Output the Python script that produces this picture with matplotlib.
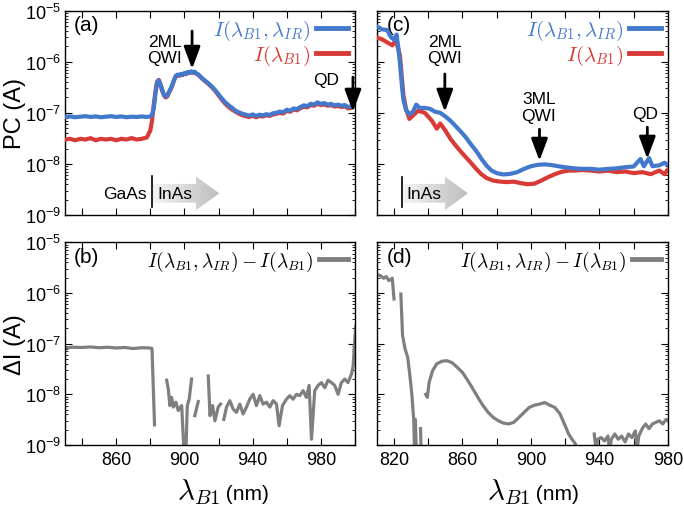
import numpy as np
import matplotlib
matplotlib.use("Agg")
import matplotlib.pyplot as plt
from matplotlib.patches import Polygon
from matplotlib.lines import Line2D
from matplotlib.colors import LinearSegmentedColormap

plt.rcParams['font.family'] = ['Liberation Sans', 'DejaVu Sans']
plt.rcParams['mathtext.fontset'] = 'cm'

nan = np.nan

BLUE = "#4279cc"
RED = "#d83a36"
GRAY = "#7f7f7f"

# ---- panel (a): PC spectra, left sample ----
lam_a = [830, 833, 836, 839, 842, 845, 848, 851, 854, 857,
         860, 863, 866, 869, 872, 875, 878, 880, 881, 882,
         883, 884, 885, 886, 887, 888, 889, 890, 891, 892,
         893, 894, 895, 896, 897, 898, 899, 900, 901, 902,
         903, 904, 905, 906, 907, 908, 909, 910, 912, 914,
         916, 918, 920, 922, 924, 926, 928, 930, 932, 934,
         936, 938, 940, 942, 944, 946, 948, 950, 952, 954,
         956, 958, 960, 962, 964, 966, 968, 970, 972, 974,
         976, 978, 980, 982, 984, 986, 988, 990, 992, 994,
         996, 998, 999, 1000]
blue_a = [8.3e-8, 8.5e-8, 8.2e-8, 8.4e-8, 8.6e-8, 8.3e-8, 8.5e-8, 8.2e-8, 8.4e-8, 8.6e-8,
          8.3e-8, 8.5e-8, 8.2e-8, 8.4e-8, 8.3e-8, 8.5e-8, 8.3e-8, 8.5e-8, 9.0e-8, 1.2e-7,
          2.3e-7, 3.9e-7, 4.3e-7, 3.6e-7, 2.8e-7, 2.3e-7, 2.1e-7, 2.2e-7, 2.6e-7, 3.0e-7,
          3.6e-7, 4.5e-7, 5.3e-7, 5.6e-7, 5.4e-7, 5.8e-7, 5.6e-7, 6.0e-7, 5.8e-7, 6.3e-7,
          6.1e-7, 6.5e-7, 6.2e-7, 6.4e-7, 5.9e-7, 5.7e-7, 5.3e-7, 4.9e-7, 4.3e-7, 3.8e-7,
          3.3e-7, 2.8e-7, 2.3e-7, 1.9e-7, 1.6e-7, 1.4e-7, 1.25e-7, 1.1e-7, 1.02e-7, 9.6e-8,
          9.2e-8, 8.8e-8, 9.3e-8, 8.7e-8, 9.2e-8, 8.9e-8, 9.4e-8, 9.1e-8, 9.8e-8, 1.0e-7,
          1.06e-7, 1.02e-7, 1.15e-7, 1.1e-7, 1.22e-7, 1.18e-7, 1.3e-7, 1.4e-7, 1.35e-7, 1.5e-7,
          1.45e-7, 1.6e-7, 1.5e-7, 1.55e-7, 1.45e-7, 1.5e-7, 1.4e-7, 1.45e-7, 1.38e-7, 1.42e-7,
          1.3e-7, 1.35e-7, 1.6e-7, 2.8e-7]
red_a = [3.0e-8, 3.1e-8, 2.9e-8, 3.1e-8, 3.0e-8, 3.2e-8, 2.9e-8, 3.1e-8, 3.0e-8, 3.1e-8,
         2.9e-8, 3.1e-8, 3.0e-8, 3.2e-8, 3.0e-8, 3.1e-8, 3.3e-8, 4.5e-8, 7.0e-8, 1.4e-7,
         2.6e-7, 4.1e-7, 4.4e-7, 3.5e-7, 2.7e-7, 2.2e-7, 2.0e-7, 2.1e-7, 2.5e-7, 2.9e-7,
         3.5e-7, 4.4e-7, 5.2e-7, 5.5e-7, 5.3e-7, 5.7e-7, 5.5e-7, 5.9e-7, 5.7e-7, 6.2e-7,
         6.0e-7, 6.3e-7, 6.1e-7, 6.2e-7, 5.8e-7, 5.6e-7, 5.2e-7, 4.8e-7, 4.2e-7, 3.7e-7,
         3.2e-7, 2.7e-7, 2.2e-7, 1.8e-7, 1.5e-7, 1.3e-7, 1.15e-7, 1.05e-7, 9.6e-8, 9.0e-8,
         8.6e-8, 8.3e-8, 8.8e-8, 8.2e-8, 8.7e-8, 8.5e-8, 9.0e-8, 8.7e-8, 9.3e-8, 9.6e-8,
         1.0e-7, 9.7e-8, 1.1e-7, 1.05e-7, 1.16e-7, 1.12e-7, 1.24e-7, 1.32e-7, 1.28e-7, 1.42e-7,
         1.38e-7, 1.5e-7, 1.42e-7, 1.46e-7, 1.38e-7, 1.42e-7, 1.33e-7, 1.37e-7, 1.3e-7, 1.34e-7,
         1.22e-7, 1.25e-7, 1.5e-7, 2.0e-7]

# ---- panel (b): difference, left sample (nan = negative / not shown) ----
lam_b = [830, 835, 840, 845, 850, 855, 860, 865, 870, 875, 880, 881, 882.5, 885,
         889.6, 890.6, 891.5, 892.5, 893.5, 895, 896.4, 898.4, 899.7, 900.9, 901.7, 902.8, 904.2, 905,
         906.1, 908.1, 910,
         914, 915, 916.5, 917.9, 919.8, 921.2, 922,
         923.1, 924.7, 926.6, 928.6, 930.5, 932.5, 934.4, 936.4, 938.3, 940.3,
         942.2, 944.2, 946.1, 948.1, 950.1, 952, 954, 955.5, 957.5, 959.8,
         961.8, 963.7, 965.7, 967.6, 969.6, 971.5, 973.1, 974.5, 976.4, 978.4,
         980.3, 982.3, 984.2, 986.2, 988.1, 990.1, 992, 994, 995.9, 997.9,
         998.9, 999.9, 1000.5]
dI_b = [8.3e-8, 8.5e-8, 8.4e-8, 8.6e-8, 8.3e-8, 8.5e-8, 8.2e-8, 8.4e-8, 8.0e-8, 8.3e-8, 8.2e-8, 8.0e-8, 2.5e-9, nan,
        1.9e-8, 1.25e-8, 6.0e-9, 8.7e-9, 5.6e-9, 7.0e-9, 4.8e-9, 6.0e-9, 8e-10, 8e-10, 6.0e-9, 8.0e-9, 2.0e-8, nan,
        3.8e-9, 7.2e-9, nan,
        2.3e-8, 3.8e-9, 6.0e-9, 3.0e-9, 5.6e-9, 6.4e-9, nan,
        3.2e-9, 5.6e-9, 7.5e-9, 5.1e-9, 4.4e-9, 6.4e-9, 4.1e-9, 5.6e-9, 8.0e-9, 1.0e-8,
        6.0e-9, 9.4e-9, 6.4e-9, 7.0e-9, 5.6e-9, 7.5e-9, 6.4e-9, 2.4e-9, 6.0e-9, 8.0e-9,
        9.4e-9, 8.0e-9, 1.0e-8, 9.4e-9, 1.18e-8, 8.7e-9, 1.5e-8, 1.3e-9, 1.18e-8, 1.5e-8,
        1.7e-8, 1.35e-8, 1.9e-8, 1.7e-8, 1.5e-8, 1.0e-8, 1.7e-8, 2.0e-8, 1.7e-8, 2.5e-8,
        3.6e-8, 1.2e-7, 2.2e-7]

# ---- panel (c): PC spectra, right sample ----
lam_c_blue = [810, 813, 816, 818, 820, 821.5, 822.5, 823.5, 824.5, 825.5,
              827, 829, 831, 833, 835, 838, 841, 844, 847, 850,
              853, 856, 859, 862, 865, 868, 871, 874, 877, 880,
              884, 888, 892, 896, 900, 904, 908, 912, 916, 920,
              925, 930, 935, 940, 945, 950, 955, 960, 964, 966,
              969, 971, 975, 978, 980]
blue_c = [4.9e-6, 4.3e-6, 4.2e-6, 3.1e-6, 2.7e-6, 3.4e-6, 1.9e-6, 9.3e-7, 3.8e-7, 1.8e-7,
          1.15e-7, 9.3e-8, 1.05e-7, 1.45e-7, 1.25e-7, 1.25e-7, 1.2e-7, 1.05e-7, 1.0e-7, 8.5e-8,
          7.0e-8, 5.5e-8, 4.3e-8, 3.3e-8, 2.4e-8, 1.8e-8, 1.27e-8, 9.3e-9, 7.4e-9, 6.6e-9,
          6.2e-9, 6.4e-9, 6.9e-9, 8.0e-9, 9.0e-9, 9.6e-9, 9.8e-9, 9.5e-9, 9.0e-9, 8.6e-9,
          8.2e-9, 8.0e-9, 8.0e-9, 7.7e-9, 8.0e-9, 8.2e-9, 8.6e-9, 8.9e-9, 1.25e-8, 9.0e-9,
          1.3e-8, 9.0e-9, 9.4e-9, 1.05e-8, 9.7e-9]
lam_c_red = [810, 813, 816, 819, 821, 822.5, 823.5, 824.5, 825.5, 827,
             829, 831, 834, 838, 842, 845, 847, 850, 853, 856,
             859, 862, 865, 868, 871, 874, 878, 882, 886, 890,
             894, 898, 902, 906, 910, 914, 918, 922, 926, 930,
             935, 940, 945, 950, 955, 960, 965, 970, 975, 978, 980]
red_c = [3.0e-6, 2.75e-6, 2.4e-6, 2.1e-6, 2.6e-6, 1.8e-6, 1.3e-6, 5.3e-7, 2.2e-7, 1.2e-7,
         7.6e-8, 8.8e-8, 1.1e-7, 1.0e-7, 7.1e-8, 4.9e-8, 6.2e-8, 4.5e-8, 3.1e-8, 2.3e-8,
         1.75e-8, 1.35e-8, 1.05e-8, 8.0e-9, 6.3e-9, 5.3e-9, 4.7e-9, 4.5e-9, 4.4e-9, 4.5e-9,
         4.2e-9, 4.0e-9, 4.1e-9, 4.7e-9, 5.5e-9, 6.3e-9, 7.0e-9, 7.4e-9, 7.4e-9, 7.6e-9,
         7.4e-9, 7.1e-9, 7.4e-9, 6.9e-9, 7.1e-9, 6.6e-9, 6.9e-9, 6.3e-9, 7.4e-9, 6.3e-9, 7.7e-9]

# ---- panel (d): difference, right sample ----
lam_d = [810, 812, 814, 815.5, 817, 819, 820, 822,
         824, 825, 826.5, 828, 829.5, 830.5, 831.5, 832, 832.5, 833, 834,
         835.5, 835.8, 837,
         838.5, 839.5, 840.5, 842.5, 845, 848, 851, 854, 857, 860,
         863, 866, 869, 872, 875, 878, 881, 884, 887, 890,
         893, 896, 899, 902, 905, 908, 911, 914, 917, 920,
         922, 924, 926, 927, 930,
         937, 938, 939, 941, 943, 945, 946, 947, 949, 951,
         953, 955, 957, 959, 961, 962, 963, 965, 967, 969,
         971, 973, 975, 977, 979, 980]
dI_d = [2.3e-6, 2.2e-6, 1.95e-6, 2.1e-6, 1.75e-6, 1.95e-6, 7.6e-7, nan,
        9.5e-7, 1.45e-7, 7.8e-8, 5.4e-8, 2.0e-8, 9.4e-9, 3.2e-9, 8e-10, 3.2e-9, 8e-10, nan,
        2.1e-9, 8e-10, nan,
        1.0e-8, 8.7e-9, 1.7e-8, 2.9e-8, 4.0e-8, 4.5e-8, 4.6e-8, 4.2e-8, 3.4e-8, 2.7e-8,
        1.9e-8, 1.3e-8, 8.7e-9, 6.0e-9, 4.4e-9, 3.5e-9, 3.0e-9, 2.7e-9, 2.6e-9, 2.8e-9,
        3.5e-9, 4.4e-9, 5.5e-9, 6.1e-9, 6.4e-9, 6.9e-9, 6.1e-9, 5.5e-9, 4.1e-9, 2.4e-9,
        1.65e-9, 1.3e-9, 1.05e-9, 8e-10, nan,
        1.65e-9, 8e-10, 1.3e-9, 1.4e-9, 1.2e-9, 1.5e-9, 8e-10, 1.3e-9, 1.65e-9, 1.3e-9,
        1.5e-9, 1.15e-9, 1.65e-9, 1.4e-9, 1.9e-9, 8e-10, 1.5e-9, 2.1e-9, 2.6e-9, 2.1e-9,
        2.6e-9, 2.8e-9, 3.0e-9, 2.6e-9, 3.2e-9, 3.0e-9]

yticks = [1e-9, 1e-8, 1e-7, 1e-6, 1e-5]
xticks_left = [840, 860, 880, 900, 920, 940, 960, 980, 1000]
xlabels_left = ["", "860", "", "900", "", "940", "", "980", ""]
xticks_right = [820, 840, 860, 880, 900, 920, 940, 960, 980]
xlabels_right = ["820", "", "860", "", "900", "", "940", "", "980"]

lab_pc = [r'$I(\lambda_{B1},\lambda_{IR})$', r'$I(\lambda_{B1})$']
lab_diff = r'$I(\lambda_{B1},\lambda_{IR})-I(\lambda_{B1})$'

fig = plt.figure(figsize=(6.84, 5.10), dpi=100)
ax_a = fig.add_axes([0.095, 0.5765, 0.424, 0.4006])
ax_c = fig.add_axes([0.551, 0.5765, 0.4254, 0.4006])
ax_b = fig.add_axes([0.095, 0.1255, 0.424, 0.3975])
ax_d = fig.add_axes([0.551, 0.1255, 0.4254, 0.3975])


def style(ax, xt, xl, show_x, show_y):
    ax.set_yscale('log')
    ax.set_xticks(xt)
    ax.set_xticklabels(xl if show_x else [""] * len(xt))
    ax.set_yticks(yticks)
    if not show_y:
        ax.set_yticklabels([])
    ax.tick_params(which='both', direction='in', top=True, right=True)
    ax.tick_params(which='major', length=5, width=0.8)
    ax.tick_params(which='minor', length=2.5, width=0.6)
    ax.tick_params(axis='x', labelsize=13, pad=4)
    ax.tick_params(axis='y', labelsize=13, pad=3)
    for s in ax.spines.values():
        s.set_linewidth(1.0)


def grad_arrow(ax, x0, xb, xt, yc, bh=0.046, hh=0.082):
    verts = [(x0, yc - bh), (xb, yc - bh), (xb, yc - hh), (xt, yc),
             (xb, yc + hh), (xb, yc + bh), (x0, yc + bh)]
    poly = Polygon(verts, closed=True, transform=ax.transAxes,
                   facecolor='none', edgecolor='none')
    ax.add_patch(poly)
    cmap = LinearSegmentedColormap.from_list('g', ['#f4f4f4', '#bdbdbd'])
    grad = np.linspace(0, 1, 256).reshape(1, -1)
    im = ax.imshow(grad, cmap=cmap, extent=[x0, xt, yc - hh, yc + hh],
                   transform=ax.transAxes, aspect='auto', zorder=1,
                   interpolation='bilinear')
    im.set_clip_path(poly)


def arrow(ax, x, y_tail, y_tip):
    ax.annotate('', xy=(x, y_tip), xytext=(x, y_tail),
                xycoords=('data', 'axes fraction'),
                textcoords=('data', 'axes fraction'),
                arrowprops=dict(arrowstyle='-|>,head_length=1.35,head_width=0.5',
                                color='black', lw=2, shrinkA=0, shrinkB=0,
                                mutation_scale=10), zorder=6)


def pc_legend(ax):
    h = [Line2D([], [], color=BLUE, lw=3.5), Line2D([], [], color=RED, lw=3.5)]
    ax.legend(h, lab_pc, loc='upper right', frameon=False, markerfirst=False,
              fontsize=15, labelcolor=[BLUE, RED], handlelength=1.5,
              handletextpad=0.3, labelspacing=0.05, borderaxespad=0.15,
              borderpad=0.2)


def diff_legend(ax):
    h = [Line2D([], [], color=GRAY, lw=3.5)]
    ax.legend(h, [lab_diff], loc='upper right', frameon=False, markerfirst=False,
              fontsize=14, handlelength=1.5, handletextpad=0.3,
              borderaxespad=0.15, borderpad=0.2)


# (a)
ax_a.plot(lam_a, red_a, color=RED, lw=3, zorder=3)
ax_a.plot(lam_a, blue_a, color=BLUE, lw=3, zorder=4)
style(ax_a, xticks_left, xlabels_left, False, True)
pc_legend(ax_a)
ax_a.text(0.03, 0.93, '(a)', transform=ax_a.transAxes, fontsize=15, va='center')
ax_a.set_ylabel('PC (A)', fontsize=17)
ax_a.yaxis.set_label_coords(-0.135, 0.5)
ax_a.text(888.6, 0.81, '2ML\nQWI', transform=ax_a.get_xaxis_transform(),
          ha='center', va='center', fontsize=12.5, linespacing=1.15)
arrow(ax_a, 904.5, 0.90, 0.715)
ax_a.text(983, 0.665, 'QD', transform=ax_a.get_xaxis_transform(),
          ha='center', va='center', fontsize=12.5)
arrow(ax_a, 998.8, 0.675, 0.505)
grad_arrow(ax_a, 0.30, 0.452, 0.532, 0.106)
ax_a.plot([0.299, 0.299], [0.039, 0.192], transform=ax_a.transAxes, color='k', lw=1.2)
ax_a.text(0.283, 0.103, 'GaAs', transform=ax_a.transAxes, ha='right', va='center', fontsize=12.5)
ax_a.text(0.317, 0.103, 'InAs', transform=ax_a.transAxes, ha='left', va='center', fontsize=12.5, zorder=5)
ax_a.set_xlim(830, 1000)
ax_a.set_ylim(1e-9, 1e-5)

# (b)
ax_b.plot(lam_b, dI_b, color=GRAY, lw=2.3)
style(ax_b, xticks_left, xlabels_left, True, True)
diff_legend(ax_b)
ax_b.text(0.03, 0.93, '(b)', transform=ax_b.transAxes, fontsize=15, va='center')
ax_b.set_ylabel('\u0394I (A)', fontsize=17)
ax_b.yaxis.set_label_coords(-0.135, 0.5)
ax_b.text(0.534, -0.266, r'$\lambda_{B1}$', transform=ax_b.transAxes, ha='right', va='baseline', fontsize=21)
ax_b.text(0.534, -0.266, ' (nm)', transform=ax_b.transAxes, ha='left', va='baseline', fontsize=15)
ax_b.set_xlim(830, 1000)
ax_b.set_ylim(1e-9, 1e-5)

# (c)
ax_c.plot(lam_c_red, red_c, color=RED, lw=3, zorder=3)
ax_c.plot(lam_c_blue, blue_c, color=BLUE, lw=3, zorder=4)
style(ax_c, xticks_right, xlabels_right, False, False)
pc_legend(ax_c)
ax_c.text(0.035, 0.93, '(c)', transform=ax_c.transAxes, fontsize=15, va='center')
ax_c.text(849.7, 0.81, '2ML\nQWI', transform=ax_c.get_xaxis_transform(),
          ha='center', va='center', fontsize=12.5, linespacing=1.15)
arrow(ax_c, 849.7, 0.69, 0.505)
ax_c.text(904.6, 0.53, '3ML\nQWI', transform=ax_c.get_xaxis_transform(),
          ha='center', va='center', fontsize=12.5, linespacing=1.15)
arrow(ax_c, 905, 0.42, 0.265)
ax_c.text(967, 0.495, 'QD', transform=ax_c.get_xaxis_transform(),
          ha='center', va='center', fontsize=12.5)
arrow(ax_c, 968, 0.43, 0.275)
grad_arrow(ax_c, 0.09, 0.234, 0.313, 0.106)
ax_c.plot([0.088, 0.088], [0.038, 0.188], transform=ax_c.transAxes, color='k', lw=1.2)
ax_c.text(0.103, 0.103, 'InAs', transform=ax_c.transAxes, ha='left', va='center', fontsize=12.5, zorder=5)
ax_c.set_xlim(810, 980)
ax_c.set_ylim(1e-9, 1e-5)

# (d)
ax_d.plot(lam_d, dI_d, color=GRAY, lw=2.3)
style(ax_d, xticks_right, xlabels_right, True, False)
diff_legend(ax_d)
ax_d.text(0.035, 0.93, '(d)', transform=ax_d.transAxes, fontsize=15, va='center')
ax_d.text(0.526, -0.266, r'$\lambda_{B1}$', transform=ax_d.transAxes, ha='right', va='baseline', fontsize=21)
ax_d.text(0.526, -0.266, ' (nm)', transform=ax_d.transAxes, ha='left', va='baseline', fontsize=15)
ax_d.set_xlim(810, 980)
ax_d.set_ylim(1e-9, 1e-5)

fig.savefig('out.png', dpi=100)
